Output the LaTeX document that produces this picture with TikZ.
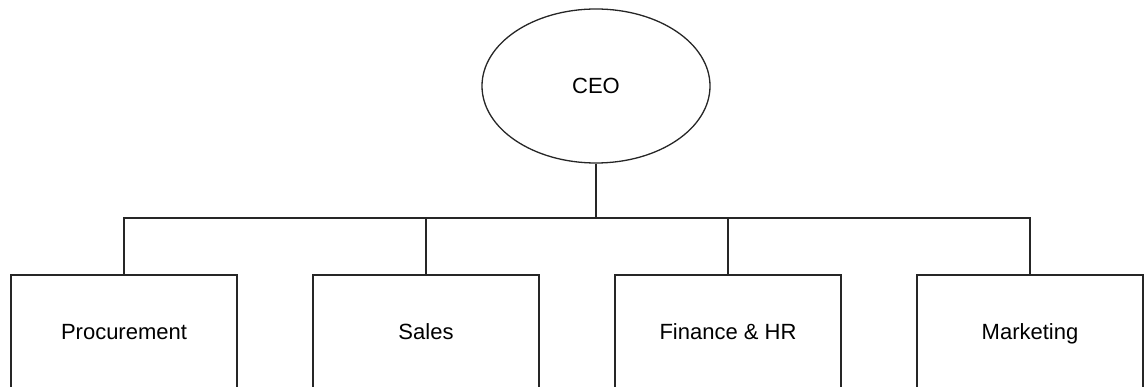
\documentclass[tikz,border=0pt]{standalone}
\usepackage{fontspec}
\setmainfont{Liberation Sans}
\usetikzlibrary{shapes.geometric}
\begin{document}
\begin{tikzpicture}[x=1pt,y=-1pt,
  every node/.style={font=\fontsize{22}{26}\selectfont},
  line/.style={draw=black!85, line width=1.6pt},
  ceobox/.style={ellipse, draw=black!85, line width=1.3pt, minimum width=228pt, minimum height=154pt, inner sep=0pt},
  deptbox/.style={rectangle, line, minimum width=226pt, minimum height=116pt, inner sep=0pt, text height=16pt, text depth=2pt}]
\useasboundingbox (0,0) rectangle (1146,387);
\clip (0,0) rectangle (1146,387);
\node[ceobox] (ceo) at (596,86) {CEO};
\node[deptbox] (p) at (124,333) {Procurement};
\node[deptbox] (s) at (426,333) {Sales};
\node[deptbox] (f) at (728,333) {Finance \& HR};
\node[deptbox] (m) at (1030,333) {Marketing};
\coordinate (bus) at (596,218);
\draw[line] (ceo.south) -- (bus);
\draw[line] (p.north) |- (bus) -| (m.north);
\draw[line] (s.north) -- (s.north |- bus);
\draw[line] (f.north) -- (f.north |- bus);
\end{tikzpicture}
\end{document}
